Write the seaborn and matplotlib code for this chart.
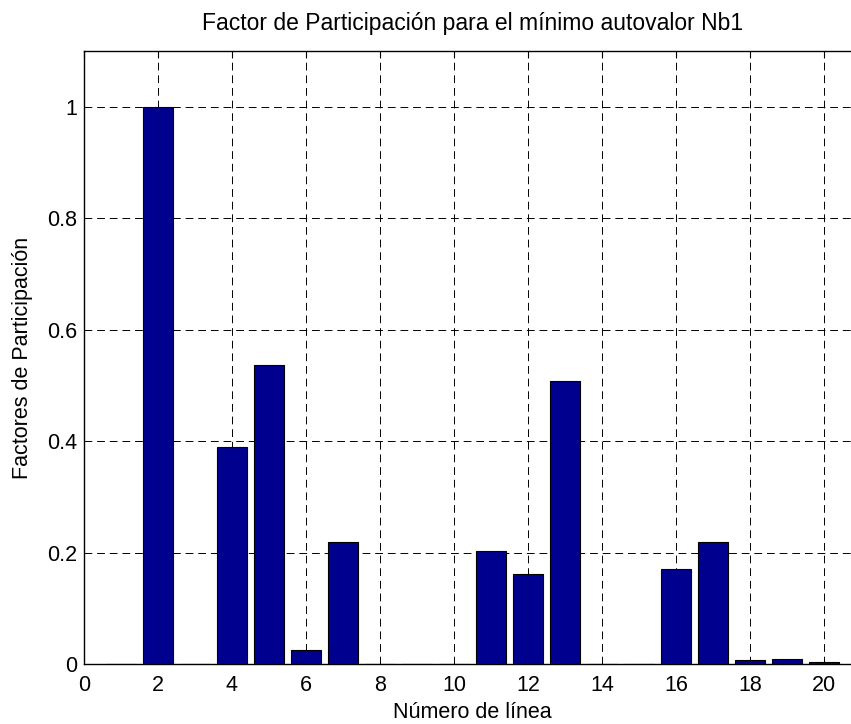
import matplotlib
matplotlib.use("Agg")
import matplotlib.pyplot as plt
import seaborn as sns
import pandas as pd

# Participation factor of each line for the smallest eigenvalue
lineas = list(range(1, 21))
factores = [0.0, 1.0, 0.0, 0.389, 0.536, 0.0245, 0.219, 0.0, 0.0, 0.0,
            0.203, 0.162, 0.507, 0.0, 0.0, 0.170, 0.219, 0.0066, 0.009, 0.003]
xticks = [0, 2, 4, 6, 8, 10, 12, 14, 16, 18, 20]
yticks = [0, 0.2, 0.4, 0.6, 0.8, 1.0]
ytick_labels = ["0", "0.2", "0.4", "0.6", "0.8", "1"]

df = pd.DataFrame({"linea": lineas, "factor": factores})

sns.set_style("white")
plt.rcParams["font.family"] = ["Liberation Sans", "DejaVu Sans"]
plt.rcParams["text.color"] = "black"
plt.rcParams["axes.labelcolor"] = "black"

fig = plt.figure(figsize=(8.51, 7.24), dpi=100)
ax = fig.add_axes([84 / 851, 1 - 664 / 724, 777 / 851, 613 / 724])

sns.barplot(data=df, x="linea", y="factor", native_scale=True, width=0.8,
            color="#00008F", saturation=1, edgecolor="black", linewidth=0.8,
            errorbar=None, ax=ax, zorder=3)

ax.set_xlim(0, 21)
ax.set_ylim(0, 1.1)
ax.set_xticks(xticks)
ax.set_xticklabels([str(t) for t in xticks])
ax.set_yticks(yticks)
ax.set_yticklabels(ytick_labels)

ax.grid(True, color="black", linestyle=(0, (8, 5)), linewidth=0.7, zorder=0)
ax.set_axisbelow(True)

for s in ax.spines.values():
    s.set_color("black")
    s.set_linewidth(1.0)

ax.tick_params(direction="in", length=5, width=0.8, labelsize=15.5,
               top=True, right=True, colors="black", labelcolor="black")
ax.tick_params(axis="x", pad=8)
ax.tick_params(axis="y", pad=5)

ax.set_title("Factor de Participación para el mínimo autovalor Nb1",
             fontsize=16.5, pad=15, color="black")
ax.set_xlabel("Número de línea", fontsize=15.5, labelpad=4, color="black")
ax.set_ylabel("Factores de Participación", fontsize=15.5, labelpad=10,
              color="black")

fig.savefig("out.png", dpi=100)
